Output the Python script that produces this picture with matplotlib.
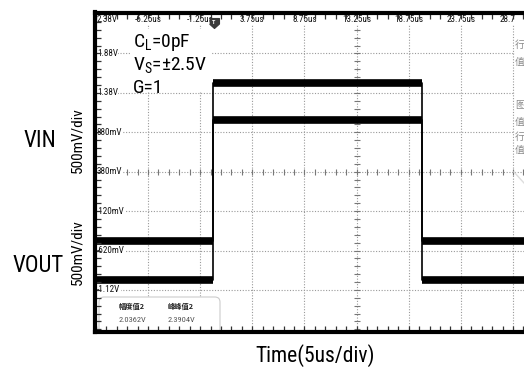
import numpy as np
import matplotlib.pyplot as plt
from matplotlib import font_manager
from matplotlib.patches import Rectangle, FancyBboxPatch

# pick a narrow sans if there is one, else shrink Liberation Sans a little
names = {f.name for f in font_manager.fontManager.ttflist}
narrow = None
for cand in ['Liberation Sans Narrow', 'Arial Narrow', 'Roboto Condensed',
             'Open Sans Condensed', 'Noto Sans Condensed']:
    if cand in names:
        narrow = cand
        break
if narrow is None:
    narrow, k = 'Liberation Sans', 0.86
else:
    k = 1.0
plt.rcParams['font.family'] = [narrow, 'DejaVu Sans']
plt.rcParams['mathtext.fontset'] = 'custom'
plt.rcParams['mathtext.rm'] = narrow
plt.rcParams['mathtext.it'] = narrow

# Scope data (time in us, volts)
time_edges = [-11.4, 0.0, 20.0, 30.0]
vin_levels = [-0.50, 1.51, -0.50]
vout_levels = [-0.99, 1.03, -0.99]

x_grid = [-6.25, -1.25, 3.75, 8.75, 13.75, 18.75, 23.75, 28.75]
x_labels = ["-6.25us", "-1.25us", "3.75us", "8.75us", "13.25us", "18.75us", "23.75us", "28.7"]
y_grid = [2.38, 1.88, 1.38, 0.88, 0.38, -0.12, -0.62, -1.12]
y_labels = ["2.38V", "1.88V", "1.38V", "880mV", "380mV", "-120mV", "-620mV", "-1.12V"]

amp_label, amp_value = "幅度值2", "2.0362V"
pp_label, pp_value = "峰峰值2", "2.3904V"
panel_chars = ["行", "值", "图", "值", "行", "值"]

# screen limits
x0, x1 = -11.33, 29.81
y0, y1 = -1.647, 2.40
W, H = 524, 367
L, R, T, B = 95, 524, 12.5, 331.5


def px2data(px, py):
    return (x0 + (px - L) / (R - L) * (x1 - x0),
            y1 - (py - T) / (B - T) * (y1 - y0))


fig = plt.figure(figsize=(W / 100, H / 100), dpi=100)
ax = fig.add_axes([L / W, (H - B) / H, (R - L) / W, (B - T) / H])
ax.set_xlim(x0, x1)
ax.set_ylim(y0, y1)

# grid
dot = (0, (1, 1.5))
for xv in x_grid:
    ax.axvline(xv, color='#9a9a9a', lw=0.8, ls=dot, zorder=1)
for yv in y_grid[1:]:
    ax.axhline(yv, color='#9a9a9a', lw=0.8, ls=dot, zorder=1)

# ticks on border
minor_x = np.arange(-11.25, 30, 1.0)
minor_y = np.arange(2.38, -1.7, -0.1)
ax.set_xticks(x_grid)
ax.set_xticks(minor_x, minor=True)
ax.set_yticks(y_grid)
ax.set_yticks(minor_y, minor=True)
ax.tick_params(which='both', direction='in', top=True, bottom=True, left=True, right=False,
               labelbottom=False, labelleft=False, length=4, width=0.9, color='#333')
ax.xaxis.set_zorder(9)
ax.yaxis.set_zorder(9)
for side, s in ax.spines.items():
    s.set_linewidth(3)
    s.set_zorder(10)
ax.spines['right'].set_visible(False)

# centre cross ticks
ax.plot(minor_x, np.full_like(minor_x, y_grid[4]), '|', ms=4, mew=0.8, color='#777', zorder=1.5)
ax.plot(np.full_like(minor_y, x_grid[4]), minor_y, '_', ms=4, mew=0.8, color='#777', zorder=1.5)

# traces
for levels in (vin_levels, vout_levels):
    xs = np.repeat(time_edges, 2)[1:-1]
    ys = np.repeat(levels, 2)
    ax.plot(xs, ys, color='black', lw=1.2, zorder=2)
    for i, lv in enumerate(levels):
        ax.plot(time_edges[i:i + 2], [lv, lv], color='black', lw=5.5,
                solid_capstyle='butt', zorder=2.5)

# trigger marker
tx, ty = px2data(214, 23)
ax.plot(tx, ty, marker=[(-1, 1), (1, 1), (1, -0.1), (0, -1), (-1, -0.1)],
        ms=7, color='#3a3a3a', zorder=6)
ax.text(tx, ty, "T", color='white', fontsize=4.5, ha='center', va='center',
        fontweight='bold', zorder=7)

# grid labels
lab_kw = dict(fontsize=6.6 * k, color='#111', zorder=5,
              bbox=dict(facecolor='white', edgecolor='none', pad=0.3))
_, ytop = px2data(0, 20)
for xv, lab in zip(x_grid[:-1], x_labels[:-1]):
    ax.text(xv, ytop, lab, ha='center', va='center', **lab_kw)
ax.text(px2data(515, 0)[0], ytop, x_labels[-1], ha='right', va='center', **lab_kw)
xl, _ = px2data(97, 0)
for i, (yv, lab) in enumerate(zip(y_grid, y_labels)):
    ax.text(xl, ytop if i == 0 else yv, lab, ha='left', va='center', **lab_kw)

# white box behind condition text
bx0, by1 = px2data(130, 29)
bx1, by0 = px2data(211, 92)
ax.add_patch(Rectangle((bx0, by0), bx1 - bx0, by1 - by0, facecolor='white',
                       edgecolor='none', zorder=4))
tx0, _ = px2data(133, 0)
for py, s in [(47, "C$_{L}$=0pF"), (70, "V$_{S}$=\u00b12.5V"), (93, "G=1")]:
    ax.text(tx0, px2data(0, py)[1], s, fontsize=14 * k, ha='left', va='baseline', zorder=6)

# right hand panel
px0, py1 = px2data(514.5, 14)
_, py0 = px2data(0, 166)
ax.add_patch(Rectangle((px0, py0), 3, py1 - py0, facecolor='white', edgecolor='none', zorder=5.5))
dx0, dy0 = px2data(514, 172)
dx1, dy1 = px2data(524, 183)
ax.plot([dx0, dx1], [dy0, dy1], color='#dddddd', lw=1, zorder=5.6)
cx, _ = px2data(515, 0)
for py, ch in zip([45, 62, 105, 122, 137, 150], panel_chars):
    ax.text(cx, px2data(0, py)[1], ch, fontsize=7, color='#888', ha='left', va='center',
            family=['Noto Sans CJK SC', 'DejaVu Sans'], zorder=6)

# measurement box
ix0, iy1 = px2data(99, 297)
ix1, iy0 = px2data(220, 345)
ax.add_patch(FancyBboxPatch((ix0, iy0), ix1 - ix0, iy1 - iy0,
                            boxstyle='round,pad=0,rounding_size=0.5',
                            mutation_aspect=0.13, facecolor='white',
                            edgecolor='#cccccc', lw=0.8, zorder=8))
cjk = ['Noto Sans CJK SC', 'DejaVu Sans']
for px, lab, val in [(119, amp_label, amp_value), (168, pp_label, pp_value)]:
    xx, yl = px2data(px, 306.5)
    _, yv = px2data(px, 319.5)
    ax.text(xx, yl, lab, fontsize=5.2, fontweight='bold', family=cjk, color='#222',
            ha='left', va='center', zorder=9)
    ax.text(xx, yv, val, fontsize=6 * k, color='#555', ha='left', va='center', zorder=9)

# outer labels
fig.text(39.5 / W, 1 - 147 / H, "VIN", fontsize=16.5 * k, ha='center', va='baseline')
fig.text(38.5 / W, 1 - 272 / H, "VOUT", fontsize=16.5 * k, ha='center', va='baseline')
fig.text(77 / W, 1 - 140 / H, "500mV/div", fontsize=11 * k, rotation=90, ha='center', va='center')
fig.text(77 / W, 1 - 252 / H, "500mV/div", fontsize=11 * k, rotation=90, ha='center', va='center')
fig.text(315 / W, 1 - 362 / H, "Time(5us/div)", fontsize=15.5 * k, ha='center', va='baseline')

fig.savefig("out.png", dpi=100)
